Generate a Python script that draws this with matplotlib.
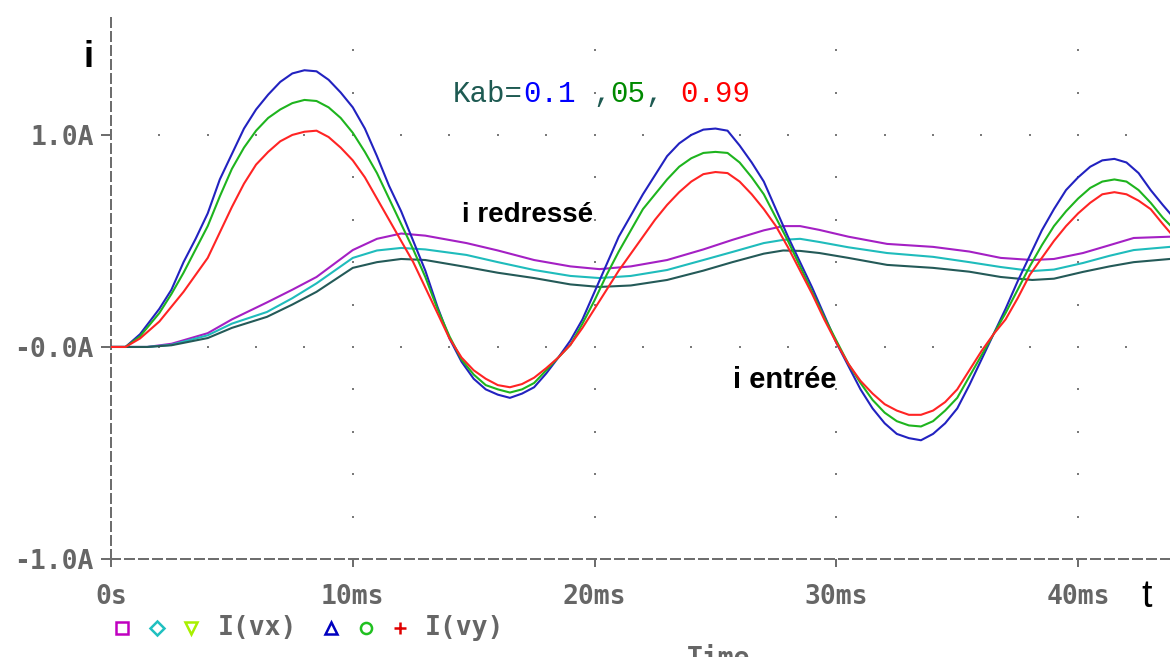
import matplotlib
matplotlib.use("Agg")
import matplotlib.pyplot as plt
from matplotlib.lines import Line2D
import numpy as np

plt.rcParams['lines.scale_dashes'] = False

# ---- input currents I(vy) for three coupling factors (time in ms, current in A)
t_in = [0, 0.6, 1.2, 2, 2.5, 3, 3.5, 4, 4.5, 5, 5.5, 6, 6.5, 7, 7.5, 8, 8.5, 9, 9.5,
        10, 10.5, 11, 11.5, 12, 12.5, 13, 13.5, 14, 14.5, 15, 15.5, 16, 16.5, 17,
        17.5, 18, 18.5, 19, 19.5, 20, 20.5, 21, 21.5, 22, 22.5, 23, 23.5, 24, 24.5,
        25, 25.5, 26, 26.5, 27, 27.5, 28, 28.5, 29, 29.5, 30, 30.5, 31, 31.5, 32,
        32.5, 33, 33.5, 34, 34.5, 35, 35.5, 36, 36.5, 37, 37.5, 38, 38.5, 39, 39.5,
        40, 40.5, 41, 41.5, 42, 42.5, 43, 43.5, 43.8]
i_in_k01 = [0, 0, 0.06, 0.18, 0.27, 0.40, 0.51, 0.63, 0.79, 0.91, 1.03, 1.12, 1.19,
            1.25, 1.29, 1.305, 1.30, 1.26, 1.20, 1.13, 1.03, 0.90, 0.76, 0.64, 0.50,
            0.36, 0.19, 0.04, -0.07, -0.15, -0.20, -0.225, -0.24, -0.22, -0.19,
            -0.125, -0.05, 0.03, 0.13, 0.26, 0.39, 0.52, 0.62, 0.72, 0.81, 0.90, 0.96,
            1.00, 1.025, 1.03, 1.02, 0.95, 0.87, 0.78, 0.65, 0.52, 0.40, 0.28, 0.15,
            0.02, -0.09, -0.20, -0.29, -0.36, -0.41, -0.43, -0.44, -0.41, -0.36, -0.29,
            -0.18, -0.06, 0.06, 0.18, 0.31, 0.43, 0.55, 0.65, 0.74, 0.80, 0.85, 0.88,
            0.887, 0.87, 0.82, 0.74, 0.67, 0.63]
i_in_k05 = [0, 0, 0.05, 0.16, 0.25, 0.35, 0.46, 0.57, 0.71, 0.84, 0.94, 1.02, 1.08,
            1.12, 1.15, 1.165, 1.16, 1.13, 1.08, 1.01, 0.92, 0.82, 0.70, 0.58, 0.46,
            0.33, 0.18, 0.05, -0.06, -0.13, -0.18, -0.20, -0.215, -0.20, -0.17, -0.11,
            -0.05, 0.01, 0.11, 0.22, 0.34, 0.45, 0.55, 0.65, 0.72, 0.79, 0.85, 0.89,
            0.915, 0.92, 0.915, 0.87, 0.80, 0.72, 0.61, 0.50, 0.38, 0.26, 0.14, 0.03,
            -0.08, -0.17, -0.25, -0.31, -0.35, -0.37, -0.375, -0.35, -0.30, -0.24,
            -0.14, -0.04, 0.06, 0.16, 0.27, 0.38, 0.48, 0.57, 0.64, 0.70, 0.75, 0.78,
            0.79, 0.78, 0.74, 0.68, 0.61, 0.575]
i_in_k099 = [0, 0, 0.04, 0.12, 0.19, 0.26, 0.34, 0.42, 0.54, 0.66, 0.77, 0.86, 0.92,
             0.97, 1.00, 1.015, 1.02, 0.99, 0.94, 0.88, 0.80, 0.70, 0.60, 0.50, 0.40,
             0.28, 0.16, 0.04, -0.05, -0.11, -0.15, -0.18, -0.19, -0.175, -0.145,
             -0.10, -0.05, 0.01, 0.09, 0.18, 0.27, 0.36, 0.44, 0.52, 0.60, 0.67, 0.73,
             0.78, 0.815, 0.825, 0.82, 0.78, 0.72, 0.65, 0.57, 0.47, 0.36, 0.25, 0.13,
             0.02, -0.08, -0.16, -0.22, -0.27, -0.30, -0.32, -0.32, -0.30, -0.26,
             -0.20, -0.11, -0.02, 0.06, 0.13, 0.23, 0.34, 0.42, 0.50, 0.57, 0.63, 0.68,
             0.72, 0.73, 0.72, 0.69, 0.65, 0.58, 0.54]

# ---- rectified currents I(vx)
t_out = [0, 1.5, 2.5, 4, 5, 6.45, 7.5, 8.5, 10, 11, 12, 13, 14.7, 16, 17.5, 19, 20.2,
         21.5, 23, 24.5, 25.7, 27, 27.8, 28.5, 29.3, 30.5, 32.1, 34, 35.5, 36.8, 38.1,
         39, 40.2, 41.3, 42.3, 43.8]
i_out_k01 = [0, 0, 0.015, 0.065, 0.13, 0.21, 0.27, 0.33, 0.457, 0.51, 0.535, 0.525,
             0.49, 0.455, 0.41, 0.38, 0.367, 0.38, 0.41, 0.46, 0.505, 0.55, 0.57, 0.57,
             0.552, 0.52, 0.486, 0.472, 0.45, 0.42, 0.41, 0.415, 0.443, 0.48, 0.514, 0.52]
i_out_k05 = [0, 0, 0.01, 0.055, 0.11, 0.165, 0.23, 0.30, 0.42, 0.455, 0.467, 0.46,
             0.434, 0.40, 0.363, 0.335, 0.325, 0.335, 0.363, 0.41, 0.448, 0.49, 0.505,
             0.51, 0.495, 0.47, 0.443, 0.425, 0.40, 0.377, 0.358, 0.365, 0.396, 0.43,
             0.457, 0.472]
i_out_k099 = [0, 0, 0.008, 0.042, 0.09, 0.142, 0.20, 0.26, 0.373, 0.40, 0.415, 0.41,
              0.377, 0.35, 0.325, 0.295, 0.283, 0.29, 0.316, 0.36, 0.40, 0.44, 0.455,
              0.453, 0.443, 0.42, 0.387, 0.373, 0.355, 0.33, 0.316, 0.322, 0.354, 0.38,
              0.40, 0.415]

x_ticks = [0, 10, 20, 30, 40]
x_labels = ["0s", "10ms", "20ms", "30ms", "40ms"]
y_ticks = [-1.0, 0.0, 1.0]
y_labels = ["-1.0A", "-0.0A", "1.0A"]

# dotted major grid: rows / columns and their dot spacing
grid_rows = [0.0, 1.0]
grid_cols = [10, 20, 30, 40]
row_dot_x = np.arange(2, 44, 2)
col_dot_y = np.arange(-0.8, 1.5, 0.2)

W, H = 1170, 657
PT = 0.72  # points per pixel at 100 dpi
fig = plt.figure(figsize=(W / 100, H / 100), dpi=100)
fig.patch.set_facecolor("white")


def fx(px):
    return px / W


def fy(py):
    return 1 - py / H


ax = fig.add_axes([fx(111), fy(559), fx(1170) - fx(111), fy(13) - fy(559)])
ax.set_xlim(0, 43.8)
ax.set_ylim(-1.0, 1.575)

AXC = "#6e6e6e"
for side in ("top", "right"):
    ax.spines[side].set_visible(False)
for side in ("left", "bottom"):
    ax.spines[side].set_color(AXC)
    ax.spines[side].set_linewidth(2 * PT)
    ax.spines[side].set_linestyle((0, (9 * PT, 5 * PT)))

# grid dots
gx, gy = [], []
for r in grid_rows:
    gx += list(row_dot_x)
    gy += [r] * len(row_dot_x)
for c in grid_cols:
    gx += [c] * len(col_dot_y)
    gy += list(col_dot_y)
ax.plot(gx, gy, linestyle="none", marker="s", markersize=1.6, color="#7a7a7a",
        markeredgewidth=0, zorder=1)

LW = 1.5
ax.plot(t_out, i_out_k01, color="#a420c4", lw=LW, zorder=3)
ax.plot(t_out, i_out_k05, color="#1fbcbc", lw=LW, zorder=3)
ax.plot(t_out, i_out_k099, color="#245a58", lw=LW, zorder=3)
ax.plot(t_in, i_in_k01, color="#2222c0", lw=LW, zorder=4)
ax.plot(t_in, i_in_k05, color="#1eb41e", lw=LW, zorder=4)
ax.plot(t_in, i_in_k099, color="#ff2424", lw=LW, zorder=4)

MONO = "DejaVu Sans Mono"
LABC = "#666666"
ax.set_xticks(x_ticks)
ax.set_xticklabels(x_labels)
ax.set_yticks(y_ticks)
ax.set_yticklabels(y_labels)
ax.tick_params(axis="x", direction="out", length=8 * PT, width=2 * PT, color=AXC,
               pad=17 * PT, labelsize=19, labelcolor=LABC)
ax.tick_params(axis="y", direction="out", length=10 * PT, width=2 * PT, color=AXC,
               pad=7 * PT, labelsize=19, labelcolor=LABC)
for lab in ax.get_xticklabels() + ax.get_yticklabels():
    lab.set_fontfamily(MONO)
    lab.set_fontweight("bold")

# axis letters
fig.text(fx(88), fy(67), "i", fontsize=26, fontweight="bold", color="black",
         family="Liberation Sans", ha="center", va="baseline")
fig.text(fx(1147), fy(607), "t", fontsize=27, color="black",
         family="Liberation Sans", ha="center", va="baseline")

# curve annotations
fig.text(fx(462), fy(222), "i redressé", fontsize=20, fontweight="bold",
         family="Liberation Sans", color="black", ha="left", va="baseline")
fig.text(fx(733), fy(388), "i entrée", fontsize=21, fontweight="bold",
         family="Liberation Sans", color="black", ha="left", va="baseline")

# coupling factor caption, monospace cells of 17.5 px
cell = 17.5
x0 = 453
caption = [("Kab=", 0, "#1e5a52"), ("0.1", 4, "#0000ff"), (",", 8, "#1e5a52"),
           ("05", 9, "#008a00"), (",", 11, "#1e5a52"), ("0.99", 13, "#ff0000")]
for txt, idx, col in caption:
    fig.text(fx(x0 + idx * cell), fy(102), txt, fontsize=21, family="Liberation Mono",
             color=col, ha="left", va="baseline")

# trace legend row
legend_marks = [(122, "s", "#c000c0", "none"), (157, "D", "#20c0c0", "none"),
                (191, "v", "#a8f000", "none"), (331, "^", "#0000c0", "none"),
                (366, "o", "#20c020", "none"), (400, "+", "#e00000", "#e00000")]
for px, mk, col, fc in legend_marks:
    ms = 8 if mk in ("s", "o") else 9
    if mk == "D":
        ms = 7
    fig.add_artist(Line2D([fx(px)], [fy(628)], marker=mk, markersize=ms,
                          markeredgecolor=col, markerfacecolor=fc,
                          markeredgewidth=1.8, linestyle="none",
                          transform=fig.transFigure))
fig.text(fx(218), fy(628), "I(vx)", fontsize=19, family=MONO, fontweight="bold",
         color=LABC, ha="left", va="center")
fig.text(fx(425), fy(628), "I(vy)", fontsize=19, family=MONO, fontweight="bold",
         color=LABC, ha="left", va="center")
fig.text(fx(687), fy(646), "Time", fontsize=19, family=MONO, fontweight="bold",
         color=LABC, ha="left", va="top")

fig.savefig("out.png", dpi=100, facecolor="white")
